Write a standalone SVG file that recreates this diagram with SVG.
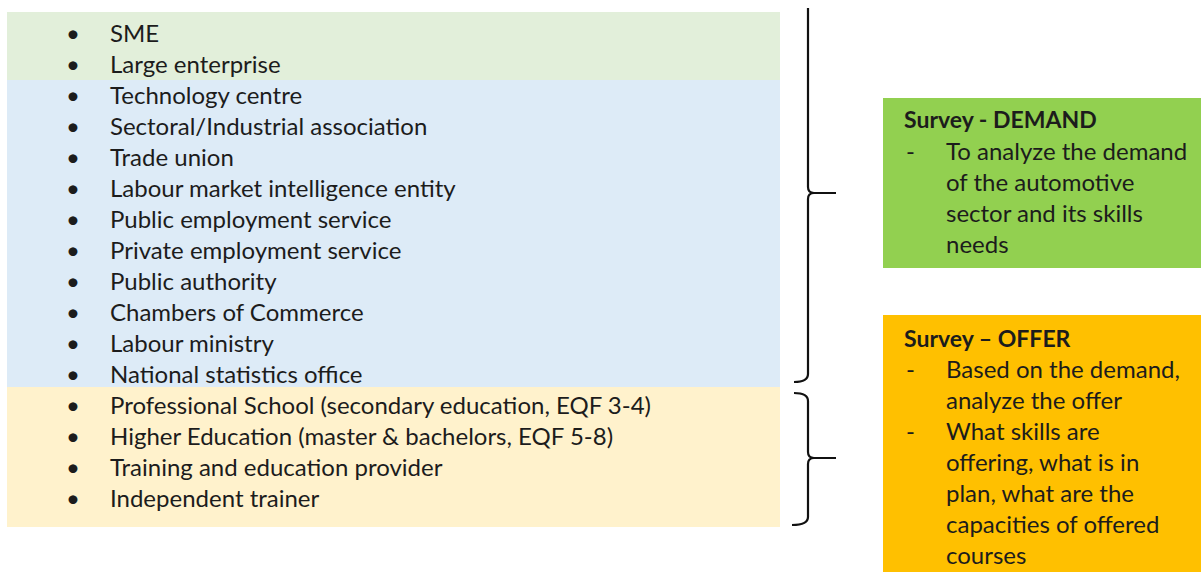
<svg xmlns="http://www.w3.org/2000/svg" width="1201" height="572" viewBox="0 0 1201 572">
<style>
.t{font-family:Lato,"Liberation Sans",sans-serif;font-size:24px;fill:#1c1c1c}
.b{font-weight:bold;font-size:23px}
.br{fill:none;stroke:#111;stroke-width:2.2}
</style>
<rect width="1201" height="572" fill="#fff"/>
<g id="band-green">
<rect x="7" y="12" width="773" height="68" fill="#E2EFDA"/>
<text class="t" x="66" y="42">•</text><text class="t" x="110" y="42">SME</text>
<text class="t" x="66" y="73">•</text><text class="t" x="110" y="73">Large enterprise</text>
</g>
<g id="band-blue">
<rect x="7" y="80" width="773" height="307" fill="#DDEBF7"/>
<text class="t" x="66" y="104">•</text><text class="t" x="110" y="104">Technology centre</text>
<text class="t" x="66" y="135">•</text><text class="t" x="110" y="135">Sectoral/Industrial association</text>
<text class="t" x="66" y="166">•</text><text class="t" x="110" y="166">Trade union</text>
<text class="t" x="66" y="197">•</text><text class="t" x="110" y="197">Labour market intelligence entity</text>
<text class="t" x="66" y="228">•</text><text class="t" x="110" y="228">Public employment service</text>
<text class="t" x="66" y="259">•</text><text class="t" x="110" y="259">Private employment service</text>
<text class="t" x="66" y="290">•</text><text class="t" x="110" y="290">Public authority</text>
<text class="t" x="66" y="321">•</text><text class="t" x="110" y="321">Chambers of Commerce</text>
<text class="t" x="66" y="352">•</text><text class="t" x="110" y="352">Labour ministry</text>
<text class="t" x="66" y="383">•</text><text class="t" x="110" y="383">National statistics office</text>
</g>
<g id="band-yellow">
<rect x="7" y="387" width="773" height="140" fill="#FFF2CC"/>
<text class="t" x="66" y="414">•</text><text class="t" x="110" y="414">Professional School (secondary education, EQF 3-4)</text>
<text class="t" x="66" y="445">•</text><text class="t" x="110" y="445">Higher Education (master &amp; bachelors, EQF 5-8)</text>
<text class="t" x="66" y="476">•</text><text class="t" x="110" y="476">Training and education provider</text>
<text class="t" x="66" y="507">•</text><text class="t" x="110" y="507">Independent trainer</text>
</g>
<g id="connectors">
<path class="br" d="M808 8 V187 Q808 193 814 193 H836 M814 193 Q808 193 808 199 V374 Q808 382 794 382"/>
<path class="br" d="M794 393 Q808 393 808 401 V452 Q808 458 814 458 H836 M814 458 Q808 458 808 464 V517 Q808 525 792 525"/>
</g>
<g id="survey-demand">
<rect x="883" y="98" width="318" height="170" fill="#92D050"/>
<text class="t b" x="904" y="128">Survey - DEMAND</text>
<text class="t" x="906" y="160">-</text><text class="t" x="946" y="160">To analyze the demand</text>
<text class="t" x="946" y="191">of the automotive</text>
<text class="t" x="946" y="222">sector and its skills</text>
<text class="t" x="946" y="253">needs</text>
</g>
<g id="survey-offer">
<rect x="883" y="315" width="318" height="257" fill="#FFC000"/>
<text class="t b" x="904" y="347">Survey – OFFER</text>
<text class="t" x="906" y="378">-</text><text class="t" x="946" y="378">Based on the demand,</text>
<text class="t" x="946" y="409">analyze the offer</text>
<text class="t" x="906" y="440">-</text><text class="t" x="946" y="440">What skills are</text>
<text class="t" x="946" y="471">offering, what is in</text>
<text class="t" x="946" y="502">plan, what are the</text>
<text class="t" x="946" y="533">capacities of offered</text>
<text class="t" x="946" y="564">courses</text>
</g>
</svg>
